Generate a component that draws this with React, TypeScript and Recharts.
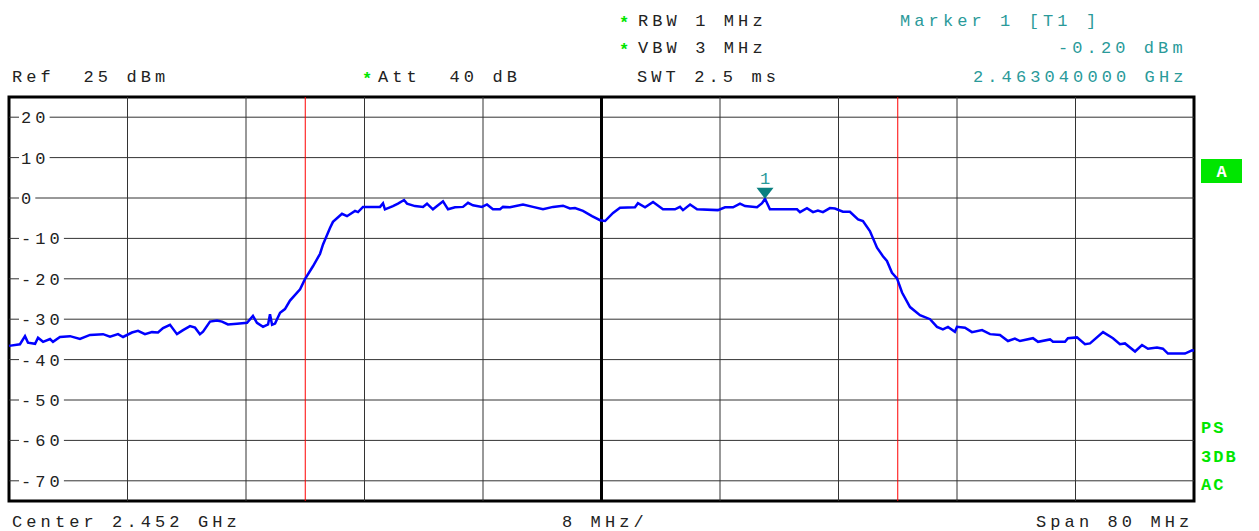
import { LineChart, Line, XAxis, YAxis, ReferenceLine, ReferenceArea, ReferenceDot } from "recharts";

const MONO = '"Liberation Mono", "DejaVu Sans Mono", monospace';
const TEAL = "#2a9a9a";
const GREEN = "#00e600";

// sweep settings
const centerMHz = 2452;
const spanMHz = 80;
const startMHz = centerMHz - spanMHz / 2;
const stopMHz = centerMHz + spanMHz / 2;
const refLevel = 25;
const bottomLevel = -75;

const levelTicks = [20, 10, 0, -10, -20, -30, -40, -50, -60, -70];
const freqDivisions = [2420, 2428, 2436, 2444, 2452, 2460, 2468, 2476, 2484];
const displayLinesMHz = [2432, 2472];

const marker = { freqMHz: 2463.04, level: -0.2 };

// trace: offset from sweep start (MHz) and level (dBm)
const traceOffsetMHz = [
  0, 0.74, 1.08, 1.28, 1.76, 1.96, 2.3, 2.77, 2.97, 3.44, 4.12, 4.79, 5.47, 6.35, 6.82, 7.36,
  7.7, 8.3, 8.71, 9.18, 9.65, 10.06, 10.4, 10.87, 11.34, 11.75, 12.22, 12.56, 12.89, 13.1, 13.57,
  14.04, 14.38, 14.78, 15.39, 16.07, 16.47, 16.74, 17.15, 17.49, 17.62, 17.76, 17.96, 18.3, 18.63,
  18.97, 19.65, 19.98, 20.52, 21.0, 21.2, 21.67, 21.87, 22.48, 22.82, 23.36, 23.56, 23.9, 25.05,
  25.25, 25.38, 25.92, 26.26, 26.67, 26.87, 27.41, 27.95, 28.22, 28.62, 29.3, 29.64, 30.11, 30.65,
  30.99, 31.32, 31.93, 32.27, 32.67, 33.15, 33.35, 33.82, 34.7, 35.37, 36.05, 36.73, 37.4, 37.87,
  38.21, 38.75, 39.36, 39.9, 40.24, 40.78, 41.25, 42.26, 42.46, 42.94, 43.48, 44.15, 44.96, 45.3,
  45.5, 45.98, 46.45, 47.86, 48.34, 48.88, 49.35, 49.69, 50.5, 50.84, 51.04, 51.37, 53.2, 53.4,
  53.87, 54.28, 54.61, 54.95, 55.42, 55.76, 56.3, 56.77, 57.32, 57.65, 58.12, 58.6, 59.0, 59.27,
  59.61, 59.95, 60.29, 60.83, 61.5, 62.18, 62.65, 63.05, 63.39, 63.86, 64.0, 64.54, 65.01, 65.69,
  66.23, 66.9, 67.44, 67.91, 68.25, 69.13, 69.47, 70.28, 70.48, 71.29, 71.49, 72.1, 72.64, 72.98,
  73.86, 74.53, 75.0, 75.34, 76.02, 76.49, 76.89, 77.5, 77.9, 78.24, 78.85, 79.39, 79.87, 80,
];

const traceLevel = [
  -36.6, -36.2, -34.2, -35.8, -36.1, -34.6, -35.6, -34.9, -35.6, -34.4, -34.2, -34.9, -33.9, -33.7,
  -34.3, -33.7, -34.4, -33.3, -32.9, -33.7, -33.2, -33.3, -32.2, -31.4, -33.7, -32.7, -31.7, -32.1,
  -33.7, -33.1, -30.6, -30.3, -30.6, -31.3, -31.1, -30.9, -29.2, -30.9, -31.9, -31.3, -28.8, -31.4,
  -31.1, -28.4, -27.5, -25.4, -22.6, -20.1, -16.9, -13.8, -11.5, -7.4, -5.9, -3.9, -4.5, -3.2, -3.5,
  -2.2, -2.2, -1.3, -2.8, -2.0, -1.4, -0.5, -1.4, -2.0, -2.2, -1.4, -2.8, -0.8, -2.8, -2.3, -2.2,
  -1.2, -1.8, -2.2, -1.6, -2.8, -2.8, -2.2, -2.3, -1.6, -2.2, -2.8, -2.2, -1.9, -2.6, -2.5, -3.2,
  -4.5, -5.5, -5.7, -3.7, -2.4, -2.3, -1.3, -2.3, -1.0, -2.8, -2.8, -2.2, -3.0, -1.6, -2.8, -3.0,
  -2.3, -2.3, -1.4, -2.0, -2.3, -1.3, -0.2, -2.8, -2.8, -3.5, -2.5, -3.5, -3.1, -3.5, -2.5, -2.6,
  -3.4, -3.4, -5.3, -5.7, -8.2, -12.3, -14.4, -15.6, -18.5, -19.9, -23.4, -27.0, -29.0, -30.0,
  -31.9, -32.5, -31.9, -33.1, -31.9, -32.1, -33.2, -32.7, -33.7, -33.9, -35.4, -34.8, -35.4, -34.7,
  -35.6, -35.0, -35.6, -35.6, -34.7, -34.5, -36.2, -36.0, -33.2, -34.7, -36.2, -36.0, -38.0, -36.4,
  -37.3, -37.0, -37.3, -38.5, -38.5, -38.5, -37.7, -37.8,
];

const data = traceOffsetMHz.map((o, i) => ({ f: startMHz + o, level: traceLevel[i] }));

const textStyle = { fontFamily: MONO, fontSize: 17, letterSpacing: 4.1, whiteSpace: "pre" as const };

// level label sitting on its grid line, white box knocks the line out behind it
function levelLabel(v: number) {
  return (props: any) => {
    const vb = props.viewBox || {};
    const x = (vb.x ?? 0) + 12;
    const y = vb.y ?? 0;
    const s = String(v);
    const w = s.length * 14.3 - 2;
    return (
      <g>
        <rect x={x - 2} y={y - 7} width={w + 4} height={14} fill="#fff" />
        <text x={x} y={y + 6} fill="#222" style={textStyle}>{s}</text>
      </g>
    );
  };
}

function MarkerShape(props: any) {
  const { cx, cy } = props;
  return (
    <g>
      <polygon points={`${cx - 8.5},${cy - 11} ${cx + 8.5},${cy - 11} ${cx},${cy}`} fill="#0a8080" />
      <text x={cx} y={cy - 15} textAnchor="middle" fill={TEAL} style={{ fontFamily: MONO, fontSize: 17 }}>1</text>
    </g>
  );
}

function Info({ x, y, children, fill = "#222" }: { x: number; y: number; children: string; fill?: string }) {
  return <text x={x} y={y} fill={fill} style={textStyle}>{children}</text>;
}

function Star({ x, y }: { x: number; y: number }) {
  return <text x={x} y={y} fill={GREEN} style={{ fontFamily: MONO, fontSize: 17, fontWeight: 700 }}>*</text>;
}

export default function App() {
  return (
    <div style={{ position: "absolute", left: 0, top: 0, width: 1259, height: 531, background: "#fff" }}>
      <LineChart width={1259} height={531} data={data} margin={{ top: 97, right: 65, bottom: 30, left: 9 }}>
        <XAxis type="number" dataKey="f" domain={[startMHz, stopMHz]} hide />
        <YAxis type="number" domain={[bottomLevel, refLevel]} hide />
        {levelTicks.map((v) => (
          <ReferenceLine key={`h${v}`} y={v} stroke="#333" strokeWidth={1} label={{ content: levelLabel(v) }} />
        ))}
        {freqDivisions.map((f) => (
          <ReferenceLine
            key={`v${f}`}
            x={f}
            stroke={f === centerMHz ? "#000" : "#333"}
            strokeWidth={f === centerMHz ? 3 : 1}
          />
        ))}
        {displayLinesMHz.map((f) => (
          <ReferenceLine key={`d${f}`} x={f} stroke="#ff0000" strokeWidth={1} />
        ))}
        <Line
          type="linear"
          dataKey="level"
          stroke="#0000ff"
          strokeWidth={2.5}
          dot={false}
          isAnimationActive={false}
        />
        <ReferenceDot x={marker.freqMHz} y={marker.level} shape={MarkerShape} />
        <ReferenceArea
          x1={startMHz}
          x2={stopMHz}
          y1={bottomLevel}
          y2={refLevel}
          fill="none"
          fillOpacity={0}
          stroke="#000"
          strokeWidth={3}
        />
      </LineChart>

      <svg width={1259} height={531} style={{ position: "absolute", left: 0, top: 0, pointerEvents: "none" }}>
        <Star x={619} y={28} />
        <Info x={638} y={26}>RBW 1 MHz</Info>
        <Star x={619} y={55} />
        <Info x={638} y={53}>VBW 3 MHz</Info>
        <Info x={637} y={82}>SWT 2.5 ms</Info>
        <Info x={12} y={82}>Ref  25 dBm</Info>
        <Star x={362} y={84} />
        <Info x={378} y={82}>Att  40 dB</Info>

        <Info x={900} y={26} fill={TEAL}>Marker 1 [T1 ]</Info>
        <Info x={1058} y={53} fill={TEAL}>-0.20 dBm</Info>
        <Info x={973} y={82} fill={TEAL}>2.463040000 GHz</Info>

        <Info x={12} y={527}>Center 2.452 GHz</Info>
        <Info x={562} y={527}>8 MHz/</Info>
        <Info x={1036} y={527}>Span 80 MHz</Info>

        <rect x={1201} y={159} width={41} height={24} fill={GREEN} />
        <text x={1221.5} y={177} textAnchor="middle" fill="#fff" style={{ fontFamily: MONO, fontSize: 17, fontWeight: 700 }}>A</text>
        <text x={1201} y={433} fill={GREEN} style={{ fontFamily: MONO, fontSize: 17, fontWeight: 700, letterSpacing: 2 }}>PS</text>
        <text x={1201} y={462} fill={GREEN} style={{ fontFamily: MONO, fontSize: 17, fontWeight: 700, letterSpacing: 2 }}>3DB</text>
        <text x={1201} y={490} fill={GREEN} style={{ fontFamily: MONO, fontSize: 17, fontWeight: 700, letterSpacing: 2 }}>AC</text>
      </svg>
    </div>
  );
}
